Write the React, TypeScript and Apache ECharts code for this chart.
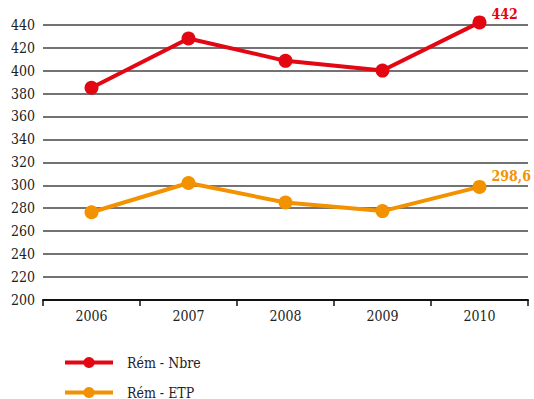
import React, { useEffect, useRef } from "react";
import * as echarts from "echarts";

const years = ["2006", "2007", "2008", "2009", "2010"];
const nbreValues = [385, 428, 408.5, 400, 442];
const etpValues = [276.5, 302, 285, 277.5, 298.6];
const seriesNames = ["Rém - Nbre", "Rém - ETP"];
const endLabels = ["442", "298,6"];

const RED = "#e30613";
const ORANGE = "#f39200";
const FONT = "'DejaVu Serif Condensed', 'DejaVu Serif', serif";

export default function App() {
  const ref = useRef<HTMLDivElement>(null);
  useEffect(() => {
    const chart = echarts.init(ref.current!, null, { renderer: "svg" });
    const mk = (name: string, vals: number[], color: string, label: string, offY: number) => ({
      name,
      type: "line",
      clip: false,
      data: vals.map((v, i) =>
        i === vals.length - 1
          ? {
              value: v,
              label: {
                show: true,
                position: "right",
                distance: 5,
                offset: [0, offY],
                formatter: label,
                color,
                fontWeight: "bold",
                fontSize: 14,
                fontFamily: FONT,
              },
            }
          : v
      ),
      symbol: "circle",
      symbolSize: 14,
      lineStyle: { color, width: 4 },
      itemStyle: { color },
      z: 3,
    });
    chart.setOption({
      animation: false,
      backgroundColor: "#fff",
      textStyle: { fontFamily: FONT },
      grid: { left: 43, right: 6, top: 24.7, bottom: 99, containLabel: false },
      legend: {
        orient: "vertical",
        left: 63,
        top: 355,
        height: 60,
        padding: 0,
        itemWidth: 48,
        itemHeight: 14,
        itemGap: 15,
        data: seriesNames,
        lineStyle: { width: 4 },
        textStyle: { fontFamily: FONT, fontSize: 14, lineHeight: 15, color: "#222", padding: [0, 0, 0, 9] },
      },
      xAxis: {
        type: "category",
        data: years,
        boundaryGap: true,
        axisLine: { lineStyle: { color: "#111", width: 2 } },
        axisTick: { show: true, length: 6, lineStyle: { color: "#111", width: 1.5 } },
        axisLabel: { fontFamily: FONT, fontSize: 14, color: "#222", margin: 9 },
        splitLine: { show: false },
      },
      yAxis: {
        type: "value",
        min: 200,
        max: 440,
        interval: 20,
        axisLine: { show: false },
        axisTick: { show: false },
        axisLabel: { fontFamily: FONT, fontSize: 14, color: "#222", margin: 8 },
        splitLine: { lineStyle: { color: "#444", width: 1.5 } },
      },
      series: [
        mk(seriesNames[0], nbreValues, RED, endLabels[0], -8),
        mk(seriesNames[1], etpValues, ORANGE, endLabels[1], -11),
      ],
    });
    return () => chart.dispose();
  }, []);
  return <div ref={ref} style={{ width: 534, height: 399, position: "absolute", left: 0, top: 0 }} />;
}
